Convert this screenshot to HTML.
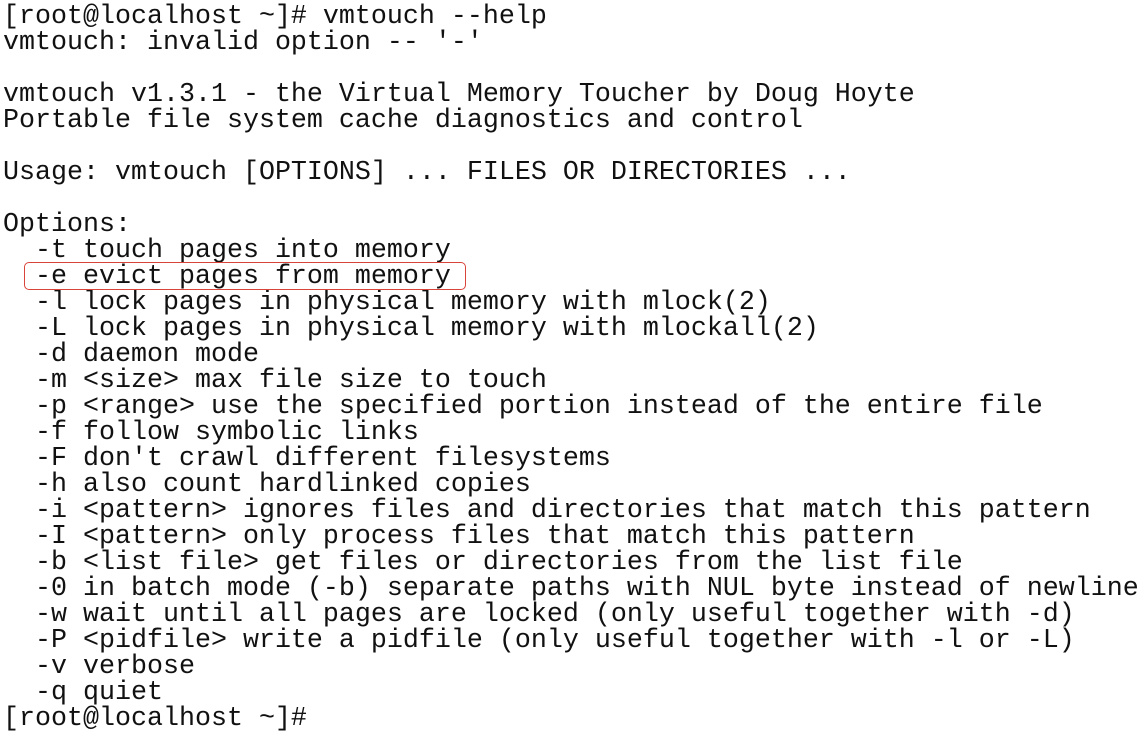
<!DOCTYPE html>
<html><head><meta charset="utf-8"><style>
html,body{margin:0;padding:0;background:#fff;width:1148px;height:730px;overflow:hidden}
pre{position:absolute;left:3px;top:4px;margin:0;font-family:"Liberation Mono",monospace;font-size:26.67px;line-height:26px;color:#111;letter-spacing:0}
.box{position:absolute;left:24px;top:262px;width:440px;height:26px;border:1.5px solid #d9443a;border-radius:5px}
</style></head><body>
<pre>[root@localhost ~]# vmtouch --help
vmtouch: invalid option -- '-'

vmtouch v1.3.1 - the Virtual Memory Toucher by Doug Hoyte
Portable file system cache diagnostics and control

Usage: vmtouch [OPTIONS] ... FILES OR DIRECTORIES ...

Options:
  -t touch pages into memory
  -e evict pages from memory
  -l lock pages in physical memory with mlock(2)
  -L lock pages in physical memory with mlockall(2)
  -d daemon mode
  -m &lt;size&gt; max file size to touch
  -p &lt;range&gt; use the specified portion instead of the entire file
  -f follow symbolic links
  -F don't crawl different filesystems
  -h also count hardlinked copies
  -i &lt;pattern&gt; ignores files and directories that match this pattern
  -I &lt;pattern&gt; only process files that match this pattern
  -b &lt;list file&gt; get files or directories from the list file
  -0 in batch mode (-b) separate paths with NUL byte instead of newline
  -w wait until all pages are locked (only useful together with -d)
  -P &lt;pidfile&gt; write a pidfile (only useful together with -l or -L)
  -v verbose
  -q quiet
[root@localhost ~]#</pre>
<div class="box"></div>
</body></html>
